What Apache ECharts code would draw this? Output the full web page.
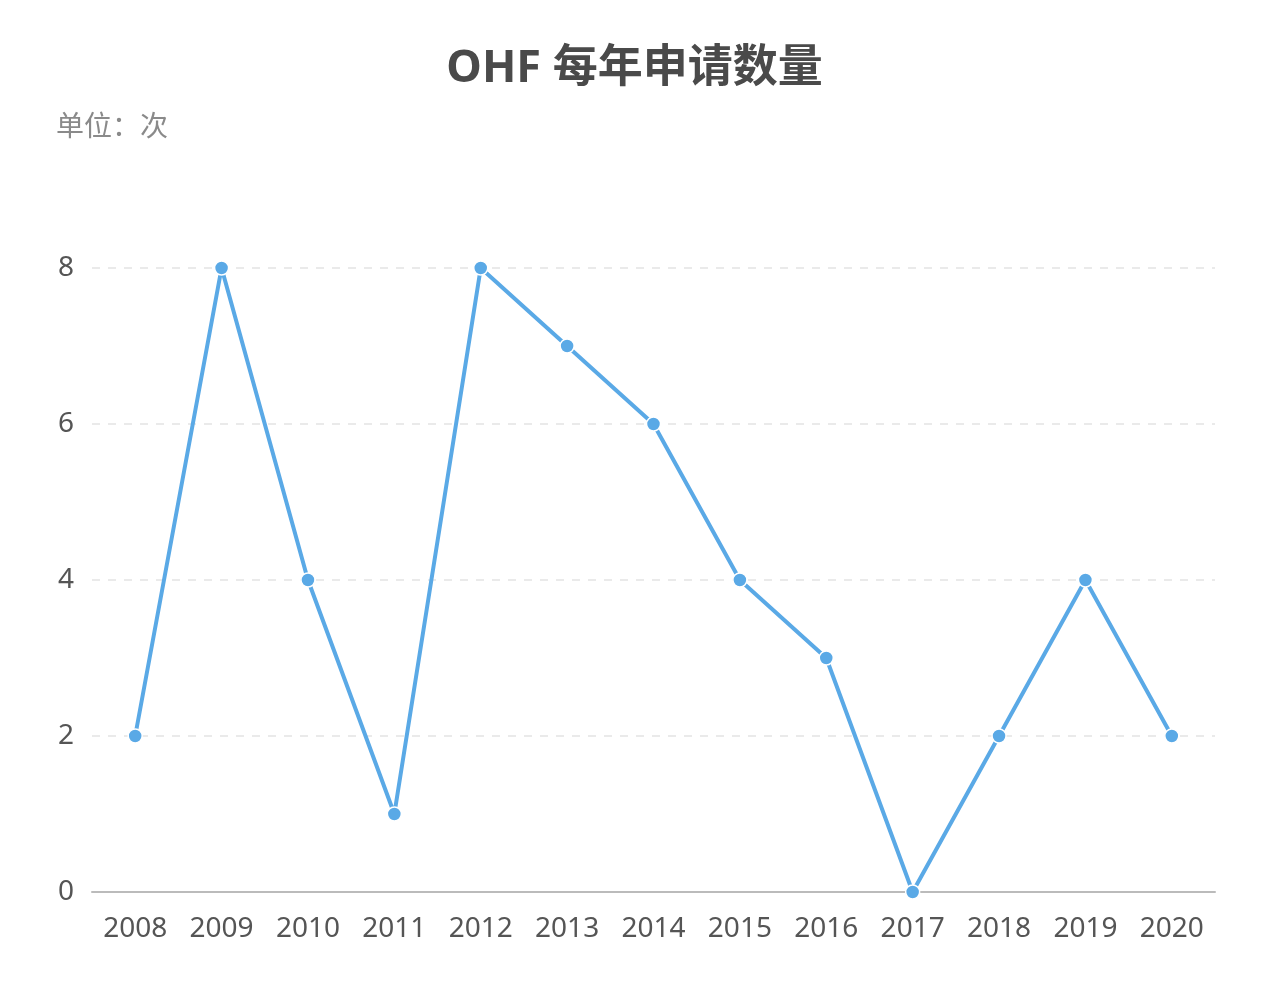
<!DOCTYPE html>
<html>
<head>
<meta charset="utf-8">
<script src="https://cdn.jsdelivr.net/npm/echarts@6/dist/echarts.min.js"></script>
<style>html,body{margin:0;padding:0;background:#fff}#c{width:1269px;height:994px}</style>
</head>
<body>
<div id="c"></div>
<script>
const categories = ['2008','2009','2010','2011','2012','2013','2014','2015','2016','2017','2018','2019','2020'];
const values = [2, 8, 4, 1, 8, 7, 6, 4, 3, 0, 2, 4, 2];
const yTicks = [0, 2, 4, 6, 8];

const font = '"Noto Sans", "Noto Sans CJK SC", sans-serif';
const chart = echarts.init(document.getElementById('c'));
chart.setOption({
  backgroundColor: '#fff',
  animation: false,
  title: [
    { text: 'OHF 每年申请数量', left: 'center', top: 42,
      textStyle: { fontFamily: font, fontSize: 45, fontWeight: 'bold', color: '#4a4a4a' } },
    { text: '单位：次', left: 51, top: 109,
      textStyle: { fontFamily: font, fontSize: 28, fontWeight: 'normal', color: '#8a8a8a' } }
  ],
  grid: { left: 92, right: 54, top: 268, bottom: 102, containLabel: false },
  xAxis: {
    type: 'category',
    data: categories,
    boundaryGap: true,
    axisLine: { lineStyle: { color: '#bbb', width: 2 } },
    axisTick: { alignWithLabel: true, length: 8, lineStyle: { color: '#bbb', width: 2 } },
    axisLabel: { fontFamily: font, fontSize: 28, color: '#555', margin: 23 }
  },
  yAxis: {
    type: 'value',
    min: yTicks[0], max: yTicks[yTicks.length - 1], interval: 2,
    axisLine: { show: false },
    axisTick: { show: false },
    axisLabel: { fontFamily: font, fontSize: 28, color: '#555', margin: 18 },
    splitLine: { lineStyle: { color: '#e3e3e3', type: [8, 8], width: 1.5 } }
  },
  series: [{
    type: 'line',
    data: values,
    symbol: 'circle',
    symbolSize: 14,
    lineStyle: { color: '#5aa9e6', width: 4 },
    itemStyle: { color: '#5aa9e6', borderColor: '#fff', borderWidth: 1.5 }
  }]
});
</script>
</body>
</html>
